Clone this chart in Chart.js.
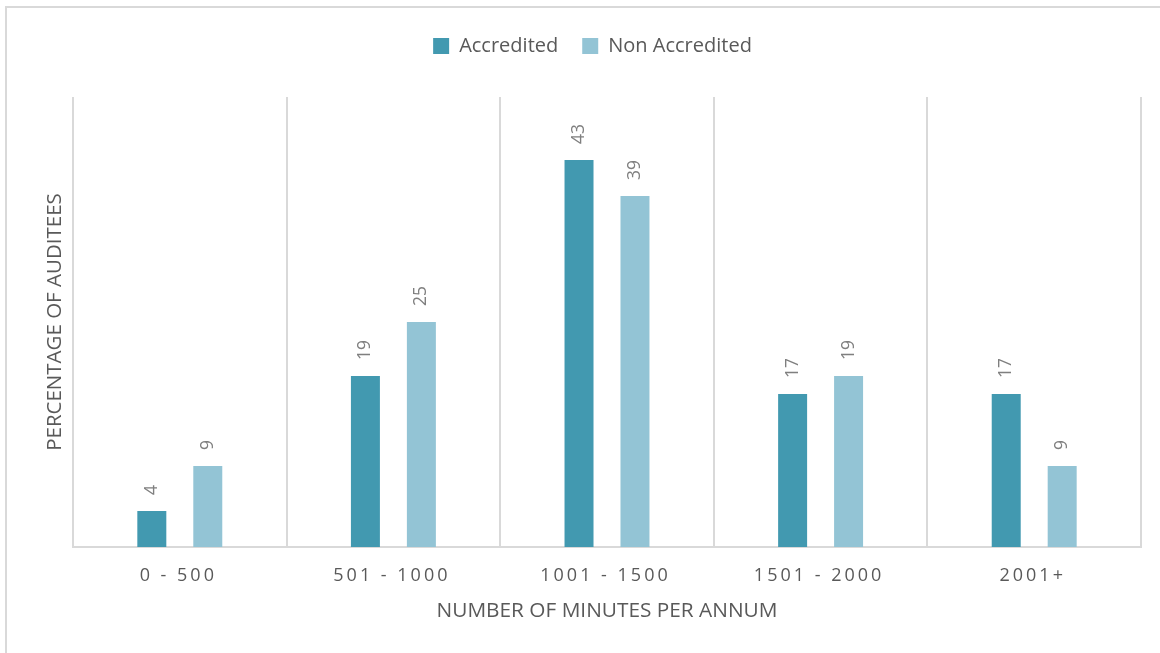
<!DOCTYPE html>
<html>
<head>
<meta charset="utf-8">
<title>Minutes per annum by accreditation</title>
<script src="https://cdn.jsdelivr.net/npm/chart.js@4.4.1/dist/chart.umd.min.js"></script>
<style>
  html, body { margin: 0; padding: 0; background: #ffffff; overflow: hidden; }
  #wrap { position: relative; width: 1160px; height: 653px; }
  #frame {
    position: absolute; left: 5px; top: 6px; width: 1300px; height: 800px;
    border-top: 2px solid #d9d9d9; border-left: 2px solid #d9d9d9;
    box-sizing: border-box;
  }
  #chart { position: absolute; left: 0; top: 0; }
</style>
</head>
<body>
<div id="wrap">
  <div id="frame"></div>
  <canvas id="chart" width="1160" height="653"></canvas>
</div>
<script>
// Share of auditees (%) by yearly minutes band
const categories = ['0 - 500', '501 - 1000', '1001 - 1500', '1501 - 2000', '2001+'];
const accredited = [4, 19, 43, 17, 17];
const nonAccredited = [9, 25, 39, 19, 9];
const seriesNames = ['Accredited', 'Non Accredited'];
const xTitle = 'NUMBER OF MINUTES PER ANNUM';
const yTitle = 'PERCENTAGE OF AUDITEES';
const yMax = 50;

const textGrey = '#595959';
const labelGrey = '#7f7f7f';
const gridGrey = '#d9d9d9';
const FONT = "'Open Sans', sans-serif";

Chart.defaults.font.family = FONT;
Chart.defaults.color = textGrey;

// Value labels written vertically above each bar
const barValueLabels = {
  id: 'barValueLabels',
  afterDatasetsDraw(chart) {
    const ctx = chart.ctx;
    ctx.save();
    ctx.font = "17.5px " + FONT;
    ctx.fillStyle = labelGrey;
    ctx.textAlign = 'left';
    ctx.textBaseline = 'middle';
    chart.data.datasets.forEach((ds, di) => {
      const meta = chart.getDatasetMeta(di);
      meta.data.forEach((bar, i) => {
        ctx.save();
        ctx.translate(bar.x, bar.y - 16);
        ctx.rotate(-Math.PI / 2);
        ctx.fillText(String(ds.data[i]), 0, 0);
        ctx.restore();
      });
    });
    ctx.restore();
  }
};

// Wider letter spacing for the category labels on the x axis
const spacedTicks = {
  id: 'spacedTicks',
  beforeDraw(chart) {
    const s = chart.scales.x;
    if (!s || s._spaced) return;
    const orig = s.drawLabels;
    s.drawLabels = function (area) {
      const c = this.ctx;
      c.save();
      c.letterSpacing = '3px';
      c.translate(-1.5, 1);
      orig.call(this, area);
      c.restore();
    };
    s._spaced = true;
  }
};

new Chart(document.getElementById('chart'), {
  type: 'bar',
  data: {
    labels: categories,
    datasets: [
      {
        label: seriesNames[0],
        data: accredited,
        backgroundColor: '#4299b0',
        xAxisID: 'x',
        categoryPercentage: 0.524,
        barPercentage: 0.518
      },
      {
        label: seriesNames[1],
        data: nonAccredited,
        backgroundColor: '#93c4d5',
        xAxisID: 'x',
        categoryPercentage: 0.524,
        barPercentage: 0.518
      }
    ]
  },
  options: {
    responsive: false,
    animation: false,
    layout: { padding: { left: 44, right: 19, top: 12, bottom: 0 } },
    plugins: {
      legend: {
        position: 'top',
        labels: {
          font: { size: 20 },
          color: textGrey,
          boxWidth: 16,
          boxHeight: 16,
          padding: 24
        }
      },
      tooltip: { enabled: false }
    },
    scales: {
      x: {
        position: 'bottom',
        offset: true,
        grid: { display: true, offset: true, color: gridGrey, lineWidth: 2, drawTicks: false },
        border: { display: true, color: gridGrey, width: 2 },
        ticks: { font: { size: 18 }, color: textGrey, padding: 17, maxRotation: 0 },
        title: {
          display: true,
          text: xTitle,
          font: { size: 20.8 },
          color: textGrey,
          padding: { top: 0, bottom: 29 }
        },
        afterFit(s) { s.height = 106; }
      },
      headroom: {
        type: 'category',
        position: 'top',
        display: true,
        grid: { display: false, drawTicks: false },
        border: { display: false },
        ticks: { display: false },
        afterFit(s) { s.height = 31; }
      },
      y: {
        min: 0,
        max: yMax,
        grid: { display: false, drawTicks: false },
        border: { display: false },
        ticks: { display: false },
        title: {
          display: true,
          text: yTitle,
          font: { size: 20.5, lineHeight: 1.1 },
          color: textGrey,
          padding: { top: 0, bottom: 0 }
        },
        afterFit(s) { s.width = 29; }
      }
    }
  },
  plugins: [barValueLabels, spacedTicks]
});
</script>
</body>
</html>
